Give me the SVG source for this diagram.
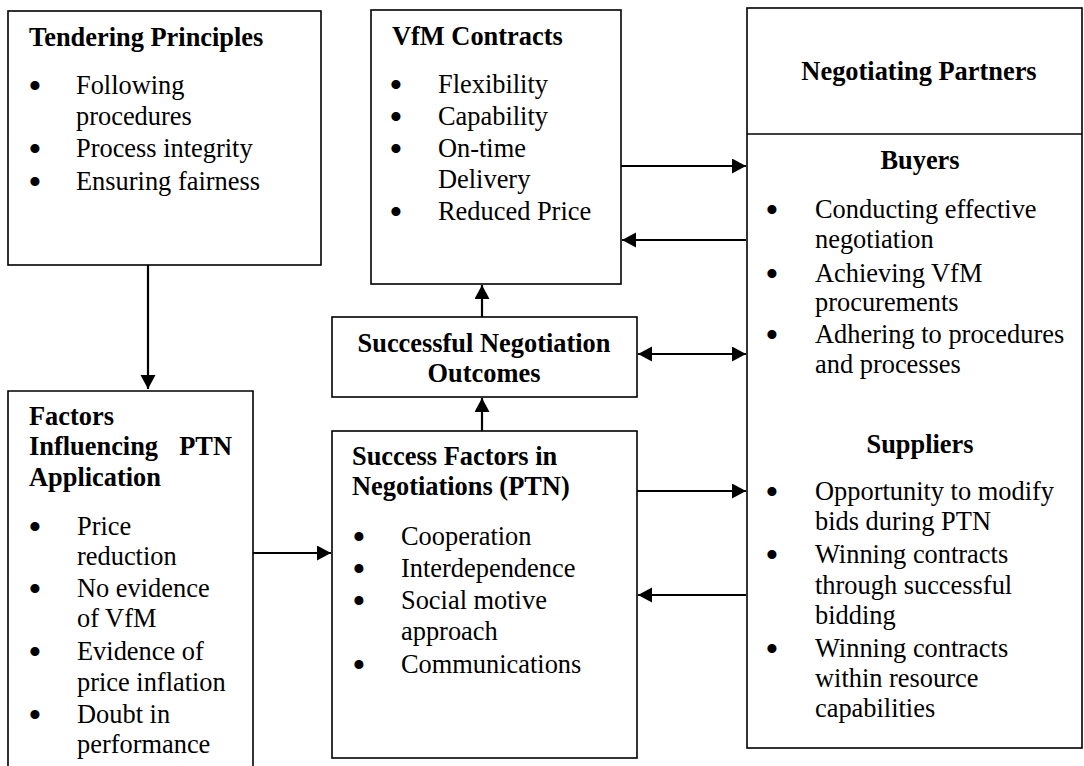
<svg xmlns="http://www.w3.org/2000/svg" width="1084" height="766" viewBox="0 0 1084 766">
<style>
text{font-family:"Liberation Serif","Times New Roman",serif;font-size:26.4px;fill:#000}
.b{font-weight:bold}
.c{text-anchor:middle}
.bl{text-anchor:middle;font-size:38px}
.box{fill:#fff;stroke:#000;stroke-width:1.6}
.con{stroke:#000;stroke-width:2.2;fill:none}
</style>
<defs>
<marker id="ah" markerUnits="userSpaceOnUse" markerWidth="16" markerHeight="16" refX="14" refY="7.5" orient="auto-start-reverse">
<path d="M0,0 L14,7.5 L0,15 Z" fill="#000"/>
</marker>
</defs>
<rect width="1084" height="766" fill="#fff"/>

<g id="connectors">
<line class="con" x1="148" y1="265" x2="148" y2="389" marker-end="url(#ah)"/>
<line class="con" x1="253" y1="553" x2="331" y2="553" marker-end="url(#ah)"/>
<line class="con" x1="482" y1="431" x2="482" y2="398" marker-end="url(#ah)"/>
<line class="con" x1="482" y1="317" x2="482" y2="285" marker-end="url(#ah)"/>
<line class="con" x1="621" y1="166" x2="746" y2="166" marker-end="url(#ah)"/>
<line class="con" x1="746" y1="240" x2="622" y2="240" marker-end="url(#ah)"/>
<line class="con" x1="638" y1="354" x2="746" y2="354" marker-start="url(#ah)" marker-end="url(#ah)"/>
<line class="con" x1="637" y1="491" x2="746" y2="491" marker-end="url(#ah)"/>
<line class="con" x1="746" y1="595" x2="638" y2="595" marker-end="url(#ah)"/>
</g>

<g id="tendering">
<rect class="box" x="8" y="11" width="313" height="254"/>
<text class="b" x="29" y="46">Tendering Principles</text>
<text class="bl" x="35" y="99">•</text>
<text x="76" y="94">Following</text>
<text x="76" y="125">procedures</text>
<text class="bl" x="35" y="162">•</text>
<text x="76" y="157">Process integrity</text>
<text class="bl" x="35" y="195">•</text>
<text x="76" y="190">Ensuring fairness</text>
</g>

<g id="vfm">
<rect class="box" x="371" y="10" width="250" height="274"/>
<text class="b" x="392" y="45">VfM Contracts</text>
<text class="bl" x="396" y="98">•</text>
<text x="438" y="93">Flexibility</text>
<text class="bl" x="396" y="130">•</text>
<text x="438" y="125">Capability</text>
<text class="bl" x="396" y="162">•</text>
<text x="438" y="157">On-time</text>
<text x="438" y="188">Delivery</text>
<text class="bl" x="396" y="225">•</text>
<text x="438" y="220">Reduced Price</text>
</g>

<g id="partners">
<rect class="box" x="747" y="8" width="335" height="740"/>
<line x1="747" y1="134" x2="1082" y2="134" stroke="#000" stroke-width="1.6"/>
<text class="b c" x="919" y="80">Negotiating Partners</text>
<text class="b c" x="920" y="169">Buyers</text>
<text class="bl" x="772" y="223">•</text>
<text x="815" y="218">Conducting effective</text>
<text x="815" y="248">negotiation</text>
<text class="bl" x="772" y="287">•</text>
<text x="815" y="282">Achieving VfM</text>
<text x="815" y="311">procurements</text>
<text class="bl" x="772" y="348">•</text>
<text x="815" y="343">Adhering to procedures</text>
<text x="815" y="373">and processes</text>
<text class="b c" x="920" y="453">Suppliers</text>
<text class="bl" x="772" y="505">•</text>
<text x="815" y="500">Opportunity to modify</text>
<text x="815" y="530">bids during PTN</text>
<text class="bl" x="772" y="568">•</text>
<text x="815" y="563">Winning contracts</text>
<text x="815" y="594">through successful</text>
<text x="815" y="624">bidding</text>
<text class="bl" x="772" y="662">•</text>
<text x="815" y="657">Winning contracts</text>
<text x="815" y="687">within resource</text>
<text x="815" y="717">capabilities</text>
</g>

<g id="outcomes">
<rect class="box" x="332" y="317" width="305" height="80"/>
<text class="b c" x="484" y="352">Successful Negotiation</text>
<text class="b c" x="484" y="382">Outcomes</text>
</g>

<g id="success-factors">
<rect class="box" x="332" y="431" width="305" height="327"/>
<text class="b" x="352" y="465">Success Factors in</text>
<text class="b" x="352" y="495">Negotiations (PTN)</text>
<text class="bl" x="359" y="550">•</text>
<text x="401" y="545">Cooperation</text>
<text class="bl" x="359" y="582">•</text>
<text x="401" y="577">Interdependence</text>
<text class="bl" x="359" y="614">•</text>
<text x="401" y="609">Social motive</text>
<text x="401" y="640">approach</text>
<text class="bl" x="359" y="678">•</text>
<text x="401" y="673">Communications</text>
</g>

<g id="factors">
<path class="box" d="M8,770 L8,391 L253,391 L253,770"/>
<text class="b" x="29" y="425">Factors</text>
<text class="b" x="29" y="455">Influencing</text>
<text class="b" x="232" y="455" text-anchor="end">PTN</text>
<text class="b" x="29" y="486">Application</text>
<text class="bl" x="35" y="540">•</text>
<text x="77" y="535">Price</text>
<text x="77" y="565">reduction</text>
<text class="bl" x="35" y="602">•</text>
<text x="77" y="597">No evidence</text>
<text x="77" y="627">of VfM</text>
<text class="bl" x="35" y="665">•</text>
<text x="77" y="660">Evidence of</text>
<text x="77" y="691">price inflation</text>
<text class="bl" x="35" y="728">•</text>
<text x="77" y="723">Doubt in</text>
<text x="77" y="753">performance</text>
</g>
</svg>
